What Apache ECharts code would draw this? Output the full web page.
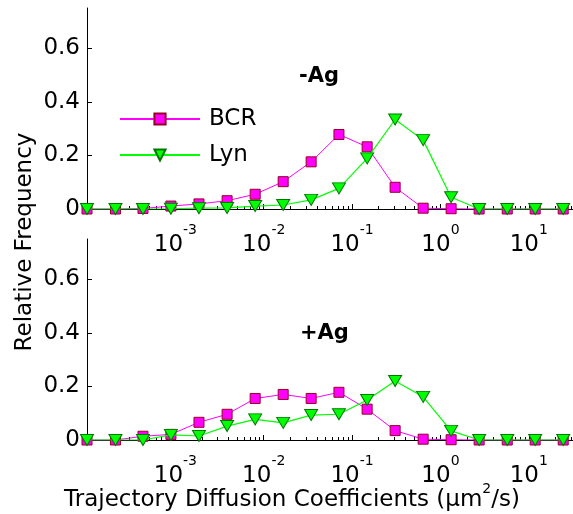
<!DOCTYPE html>
<html>
<head>
    <meta charset="utf-8">
    <title>Trajectory diffusion coefficients</title>
    <script src="https://cdn.jsdelivr.net/npm/echarts@6/dist/echarts.min.js"></script>
    <style>
        html, body { margin: 0; padding: 0; background: #fff; }
        #chart { width: 573px; height: 514px; }
    </style>
</head>
<body>
    <div id="chart"></div>
    <script type="text/javascript">
        // bin centres (um^2/s)
        var binCenters = [1.0e-4, 2.1e-4, 4.3e-4, 8.9e-4, 1.85e-3, 3.85e-3, 8.0e-3, 1.66e-2, 3.44e-2,
                          7.1e-2, 0.148, 0.307, 0.637, 1.32, 2.74, 5.7, 11.8, 24.5];
        // -Ag panel
        var bcrMinusAg = [0, 0, 0.002, 0.011, 0.019, 0.031, 0.055, 0.102, 0.176, 0.278, 0.232, 0.081, 0.003, 0.001, 0, 0, 0, 0];
        var lynMinusAg = [0, 0, 0, 0.001, 0.003, 0.004, 0.011, 0.015, 0.034, 0.077, 0.189, 0.334, 0.257, 0.044, 0, 0, 0, 0];
        // +Ag panel
        var bcrPlusAg = [0, 0, 0.014, 0.021, 0.066, 0.096, 0.155, 0.170, 0.155, 0.178, 0.115, 0.035, 0.003, 0.001, 0, 0, 0, 0];
        var lynPlusAg = [0, 0, 0, 0.019, 0.015, 0.052, 0.077, 0.064, 0.093, 0.096, 0.149, 0.220, 0.161, 0.034, 0, 0, 0, 0];

        var xMajorTicks = [1e-3, 1e-2, 1e-1, 1, 10];
        var yTicks = [0, 0.2, 0.4, 0.6];
        var panelTitles = ['-Ag', '+Ag'];

        var FONT = 'DejaVu Sans';
        var xMin = 1e-4, xMax = 31.62;

        // minor ticks 2..9 in every decade
        var xMinorTicks = [];
        for (var d = -4; d <= 1; d++) {
            for (var m = 2; m <= 9; m++) {
                var v = m * Math.pow(10, d);
                if (v < xMax) xMinorTicks.push(v);
            }
        }

        function pairs(vals) {
            return binCenters.map(function (x, i) { return [x, vals[i]]; });
        }

        function xAxisMain(gi) {
            return {
                type: 'log', gridIndex: gi, min: xMin, max: xMax, position: 'bottom',
                axisLine: { show: true, lineStyle: { color: '#000', width: 1 } },
                axisTick: { show: true, inside: true, length: 5, customValues: xMajorTicks, lineStyle: { color: '#000' } },
                splitLine: { show: false },
                minorTick: { show: false },
                axisLabel: {
                    customValues: xMajorTicks,
                    margin: 8,
                    formatter: function (v) {
                        return '{b|10}{e|' + Math.round(Math.log10(v)) + '}';
                    },
                    rich: {
                        b: { fontFamily: FONT, fontSize: 23, color: '#000', lineHeight: 40, verticalAlign: 'bottom' },
                        e: { fontFamily: FONT, fontSize: 14, color: '#000', verticalAlign: 'top', padding: [6, 0, 0, 0] }
                    }
                }
            };
        }

        function xAxisMinor(gi) {
            return {
                type: 'log', gridIndex: gi, min: xMin, max: xMax, position: 'bottom',
                axisLine: { show: false },
                axisTick: { show: true, inside: true, length: 3, customValues: xMinorTicks, lineStyle: { color: '#000' } },
                axisLabel: { show: false },
                splitLine: { show: false }
            };
        }

        function yAxis(gi) {
            return {
                type: 'value', gridIndex: gi, min: 0, max: 0.75,
                axisLine: { show: true, lineStyle: { color: '#000', width: 1 } },
                axisTick: { show: true, inside: true, length: 5, customValues: yTicks, lineStyle: { color: '#000' } },
                splitLine: { show: false },
                axisLabel: {
                    customValues: yTicks, margin: 7,
                    fontFamily: FONT, fontSize: 23, color: '#000'
                }
            };
        }

        var bcrStyle = {
            type: 'line', name: 'BCR', symbol: 'rect', symbolSize: 10,
            lineStyle: { color: '#ff00ff', width: 1 },
            itemStyle: { color: '#ff00ff', borderColor: '#990022', borderWidth: 1 },
            emphasis: { disabled: true }, z: 3
        };
        var lynStyle = {
            type: 'line', name: 'Lyn', symbol: 'triangle', symbolRotate: 180, symbolSize: [13, 11],
            lineStyle: { color: '#00ff00', width: 1.2 },
            itemStyle: { color: '#00ff00', borderColor: '#007700', borderWidth: 1 },
            emphasis: { disabled: true }, z: 4
        };

        function series(base, xi, yi, vals) {
            var s = Object.assign({}, base);
            s.xAxisIndex = xi;
            s.yAxisIndex = yi;
            s.data = pairs(vals);
            s.animation = false;
            return s;
        }

        var chart = echarts.init(document.getElementById('chart'), null, { renderer: 'canvas' });

        var option = {
            animation: false,
            backgroundColor: '#fff',
            textStyle: { fontFamily: FONT },
            grid: [
                { left: 87, right: -4, top: 8, height: 201 },
                { left: 87, right: -4, top: 239, height: 201 }
            ],
            xAxis: [xAxisMain(0), xAxisMinor(0), xAxisMain(1), xAxisMinor(1)],
            yAxis: [yAxis(0), yAxis(1)],
            title: [
                { text: panelTitles[0], left: 299, top: 66, padding: 0,
                  textStyle: { fontFamily: FONT, fontSize: 21, fontWeight: 'bold', color: '#000' } },
                { text: panelTitles[1], left: 300, top: 323, padding: 0,
                  textStyle: { fontFamily: FONT, fontSize: 21, fontWeight: 'bold', color: '#000' } }
            ],
            legend: {
                data: ['BCR', 'Lyn'],
                orient: 'vertical',
                left: 119, top: 107,
                padding: 0,
                itemWidth: 80, itemHeight: 14, itemGap: 12,
                textStyle: { fontFamily: FONT, fontSize: 23, color: '#000', lineHeight: 24, padding: [0, 0, 0, 4] }
            },
            graphic: [
                {
                    type: 'text', x: 25, y: 242, rotation: Math.PI / 2,
                    style: { text: 'Relative Frequency', fontFamily: FONT, fontSize: 23, fill: '#000',
                             align: 'center', verticalAlign: 'middle' }
                },
                {
                    type: 'text', x: 292, y: 497,
                    style: { text: '{t|Trajectory Diffusion Coefficients (\u03bcm}{s|2}{t|/s)}', fontFamily: FONT, fontSize: 23, fill: '#000',
                             align: 'center', verticalAlign: 'middle',
                             rich: {
                                 t: { fontFamily: FONT, fontSize: 23, lineHeight: 30, verticalAlign: 'bottom' },
                                 s: { fontFamily: FONT, fontSize: 14, lineHeight: 18, verticalAlign: 'top' }
                             } }
                }
            ],
            series: [
                series(bcrStyle, 0, 0, bcrMinusAg),
                series(lynStyle, 0, 0, lynMinusAg),
                series(bcrStyle, 2, 1, bcrPlusAg),
                series(lynStyle, 2, 1, lynPlusAg)
            ]
        };
        chart.setOption(option);
    </script>
</body>
</html>
